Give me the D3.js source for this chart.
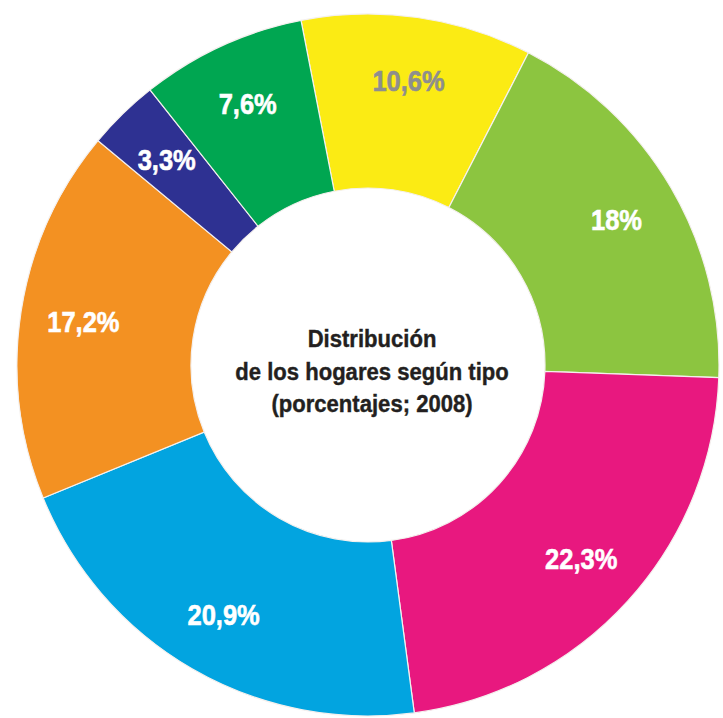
<!DOCTYPE html>
<html>
<head>
<meta charset="utf-8">
<script src="https://cdn.jsdelivr.net/npm/d3@7"></script>
<style>
    body { margin: 0; background: #ffffff; }
    #chart-hogares svg { display: block; }
</style>
</head>
<body>
<div id="chart-hogares"></div>
<script>
// slices clockwise, starting at the yellow one
const categories = ["yellow", "lightgreen", "magenta", "blue", "orange", "navy", "green"];
const values = [10.6, 18, 22.3, 20.9, 17.2, 3.3, 7.6];
const labels = ["10,6%", "18%", "22,3%", "20,9%", "17,2%", "3,3%", "7,6%"];
const colors = ["#fbeb14", "#8cc540", "#e8187f", "#02a4e0", "#f39122", "#2e3192", "#00a651"];
const labelColors = ["#8e8e8e", "#ffffff", "#ffffff", "#ffffff", "#ffffff", "#ffffff", "#ffffff"];
const titleLines = ["Distribución", "de los hogares según tipo", "(porcentajes; 2008)"];

drawDonut(document.getElementById("chart-hogares"));

function drawDonut(containerElement) {
    const width = 723;
    const height = 718;
    const cx = 368, cy = 365;
    const outerRadius = 351;
    const innerRadius = 177;
    const labelRadius = 288;

    const svg = d3.select(containerElement)
        .append("svg")
        .attr("width", width)
        .attr("height", height)
        .append("g")
        .attr("transform", `translate(${cx},${cy})`);

    const data = categories.map((c, i) => ({ key: c, value: values[i], label: labels[i] }));

    const start = -11 * Math.PI / 180;
    const pie = d3.pie()
        .sort(null)
        .value(d => d.value)
        .startAngle(start)
        .endAngle(start + 2 * Math.PI);

    const arc = d3.arc()
        .innerRadius(innerRadius)
        .outerRadius(outerRadius);

    const labelArc = d3.arc()
        .innerRadius(labelRadius)
        .outerRadius(labelRadius);

    const color = d3.scaleOrdinal().domain(categories).range(colors);
    const textColor = d3.scaleOrdinal().domain(categories).range(labelColors);

    const arcs = pie(data);

    svg.selectAll("path.slice")
        .data(arcs)
        .enter().append("path")
        .attr("class", "slice")
        .attr("d", arc)
        .attr("fill", d => color(d.data.key))
        .attr("stroke", "#f4f0ee")
        .attr("stroke-width", 1.2);

    // percentage labels (stroke makes them a bit heavier, like the condensed black face)
    svg.selectAll("text.pct")
        .data(arcs)
        .enter().append("text")
        .attr("class", "pct")
        .attr("transform", d => {
            const [x, y] = labelArc.centroid(d);
            return `translate(${x},${y}) scale(0.85,1)`;
        })
        .attr("text-anchor", "middle")
        .attr("dy", "0.36em")
        .attr("font-family", "'Liberation Sans', Arial, sans-serif")
        .attr("font-weight", "bold")
        .attr("font-size", 30)
        .attr("fill", d => textColor(d.data.key))
        .attr("stroke", d => textColor(d.data.key))
        .attr("stroke-width", 0.6)
        .text(d => d.data.label);

    // title in the hole
    const title = svg.append("text")
        .attr("transform", "translate(4,0) scale(0.92,1)")
        .attr("text-anchor", "middle")
        .attr("font-family", "'Liberation Sans', Arial, sans-serif")
        .attr("font-weight", "bold")
        .attr("font-size", 24)
        .attr("fill", "#231f20")
        .attr("stroke", "#231f20")
        .attr("stroke-width", 0.4);

    title.selectAll("tspan")
        .data(titleLines)
        .enter().append("tspan")
        .attr("x", 0)
        .attr("y", (d, i) => -18 + i * 32.5)
        .text(d => d);
}
</script>
</body>
</html>
